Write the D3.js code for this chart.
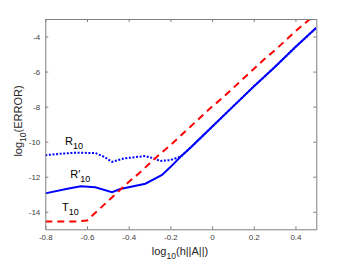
<!DOCTYPE html>
<html>
<head>
<meta charset="utf-8">
<script src="https://d3js.org/d3.v7.min.js"></script>
<style>
  body { margin: 0; background: #fff; }
  text { font-family: "Liberation Sans", Arial, sans-serif; }
</style>
</head>
<body>
<svg id="chart" width="350" height="263"></svg>
<script>
// data
const xTicks = [-0.8, -0.6, -0.4, -0.2, 0, 0.2, 0.4];
const yTicks = [-14, -12, -10, -8, -6, -4];

const tX = [-0.8, -0.75, -0.7, -0.65, -0.6, -0.55, -0.5, -0.45, -0.4, -0.35, -0.3, -0.25, -0.2, -0.15, -0.1, -0.05, 0, 0.05, 0.1, 0.15, 0.2, 0.25, 0.3, 0.35, 0.4, 0.45, 0.5];
const tY = [-14.55, -14.55, -14.55, -14.55, -14.5, -13.95, -13.4, -12.85, -12.3, -11.8, -11.25, -10.7, -10.2, -9.65, -9.1, -8.55, -8.0, -7.5, -6.95, -6.4, -5.85, -5.3, -4.8, -4.25, -3.7, -3.2, -2.7];

const rpX = [-0.8, -0.7, -0.63, -0.56, -0.48, -0.44, -0.32, -0.24, -0.2, -0.15, -0.1, 0, 0.1, 0.2, 0.3, 0.4, 0.5];
const rpY = [-12.95, -12.7, -12.55, -12.6, -12.88, -12.7, -12.4, -11.9, -11.45, -10.85, -10.3, -9.15, -8.0, -6.85, -5.75, -4.6, -3.5];

const rX = [-0.8, -0.72, -0.65, -0.56, -0.52, -0.48, -0.42, -0.32, -0.28, -0.25, -0.2, -0.15, -0.1, 0, 0.1, 0.2, 0.3, 0.4, 0.5];
const rY = [-10.77, -10.68, -10.63, -10.65, -10.85, -11.15, -10.95, -10.82, -10.95, -11.1, -11.05, -10.85, -10.3, -9.15, -8.0, -6.85, -5.75, -4.6, -3.5];

const svg = d3.select("#chart");
const mLeft = 45.3, mRight = 316.3, mTop = 19, mBottom = 229.3;

var x = d3.scaleLinear().domain([-0.8, 0.5]).range([mLeft, mRight]);
var y = d3.scaleLinear().domain([-15, -3]).range([mBottom, mTop]);

svg.append("defs").append("clipPath").attr("id", "clip")
  .append("rect").attr("x", mLeft).attr("y", mTop)
  .attr("width", mRight - mLeft).attr("height", mBottom - mTop);

var line = d3.line().x(d => x(d[0])).y(d => y(d[1]));
function pts(xs, ys) { return xs.map((v, i) => [v, ys[i]]); }

var plot = svg.append("g").attr("clip-path", "url(#clip)");

plot.append("path").datum(pts(rX, rY)).attr("d", line)
  .attr("fill", "none").attr("stroke", "#0000ff").attr("stroke-width", 2)
  .attr("stroke-dasharray", "2,1.6");

plot.append("path").datum(pts(rpX, rpY)).attr("d", line)
  .attr("fill", "none").attr("stroke", "#0000ff").attr("stroke-width", 2);

plot.append("path").datum(pts(tX, tY)).attr("d", line)
  .attr("fill", "none").attr("stroke", "#ff0000").attr("stroke-width", 2)
  .attr("stroke-dasharray", "7,5");

// axes (MATLAB style box with inward ticks)
var axCol = "#7f7f7f", txtCol = "#404040";
var tl = 3;

svg.append("g").attr("transform", "translate(0," + mBottom + ")")
  .call(d3.axisBottom(x).tickValues(xTicks).tickSizeInner(-tl).tickSizeOuter(0).tickPadding(5))
  .call(g => g.select(".domain").attr("stroke", axCol))
  .call(g => g.selectAll(".tick line").attr("stroke", axCol))
  .call(g => g.selectAll("text").attr("fill", txtCol).attr("font-size", 8)
    .attr("font-family", "Liberation Sans, Arial, sans-serif").text(d => d === 0 ? "0" : d.toFixed(1)));

svg.append("g").attr("transform", "translate(0," + mTop + ")")
  .call(d3.axisTop(x).tickValues(xTicks).tickSizeInner(-tl).tickSizeOuter(0).tickFormat(""))
  .call(g => g.select(".domain").attr("stroke", axCol))
  .call(g => g.selectAll(".tick line").attr("stroke", axCol));

svg.append("g").attr("transform", "translate(" + mLeft + ",0)")
  .call(d3.axisLeft(y).tickValues(yTicks).tickSizeInner(-tl).tickSizeOuter(0).tickPadding(5))
  .call(g => g.select(".domain").attr("stroke", axCol))
  .call(g => g.selectAll(".tick line").attr("stroke", axCol))
  .call(g => g.selectAll("text").attr("fill", txtCol).attr("font-size", 8)
    .attr("font-family", "Liberation Sans, Arial, sans-serif").text(d => String(d)));

svg.append("g").attr("transform", "translate(" + mRight + ",0)")
  .call(d3.axisRight(y).tickValues(yTicks).tickSizeInner(-tl).tickSizeOuter(0).tickFormat(""))
  .call(g => g.select(".domain").attr("stroke", axCol))
  .call(g => g.selectAll(".tick line").attr("stroke", axCol));

// axis titles
var xt = svg.append("text").attr("x", 180).attr("y", 255).attr("text-anchor", "middle")
  .attr("font-size", 11).attr("fill", "#262626");
xt.append("tspan").text("log");
xt.append("tspan").attr("font-size", 8.5).attr("dy", 3.5).text("10");
xt.append("tspan").attr("dy", -3.5).text("(h||A||)");

var yt = svg.append("text").attr("transform", "translate(22,121) rotate(-90)")
  .attr("text-anchor", "middle").attr("font-size", 11).attr("fill", "#262626");
yt.append("tspan").text("log");
yt.append("tspan").attr("font-size", 8.5).attr("dy", 3.5).text("10");
yt.append("tspan").attr("dy", -3.5).text("(ERROR)");

// curve labels
function label(px, py, main, sub) {
  var t = svg.append("text").attr("x", px).attr("y", py).attr("font-size", 11).attr("fill", "#000");
  t.append("tspan").text(main);
  t.append("tspan").attr("font-size", 9).attr("dy", 4).text(sub);
}
label(x(-0.705), y(-10.2), "R", "10");
label(x(-0.68), y(-12.1), "R\u2032", "10");
label(x(-0.72), y(-13.95), "T", "10");
</script>
</body>
</html>
